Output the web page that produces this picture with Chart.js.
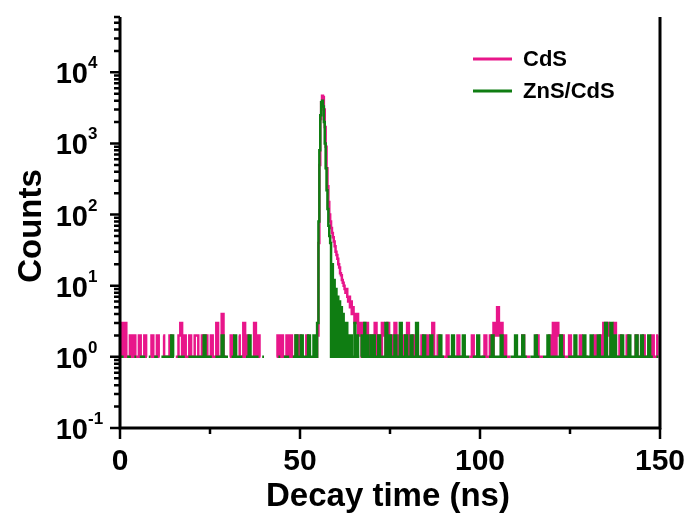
<!DOCTYPE html>
<html>
<head>
<meta charset="utf-8">
<script src="https://cdn.jsdelivr.net/npm/chart.js@4"></script>
<style>
  html, body { margin: 0; padding: 0; background: #fff; }
  #wrap { width: 689px; height: 513px; position: relative; }
</style>
</head>
<body>
<div id="wrap"><canvas id="chart-decay"></canvas></div>
<script>
// =================================================================
// TRPL decay: CdS vs ZnS/CdS
// =================================================================

// channel blocks: start time (ns) and channel width (ns)
const blockStarts = [0, 55, 70];
const blockSteps = [0.5, 0.25, 0.5];

// counts per channel, 0 = empty channel (not drawn on log axis)
const cdsPre = [
    1,3,1,3,1,1,2,1,2,1, 1,2,1,1,2,1,0,1,2,1,
    1,2,1,0,2,1,1,1,2,1, 0,1,1,2,3,1,2,1,1,2,
    1,1,2,2,1,1,2,1,2,1, 1,2,1,1,3,1,1,4,1,1,
    0,1,2,1,1,0,2,1,1,3, 1,2,1,0,1,3,1,2,1,0,
    0,1,0,0,1,0,0,1,2,1, 2,1,1,2,1,2,1,1,2,1,
    2,1,0,1,2,1,1,0,1,1
];
const znsPre = [
    1,1,1,0,1,1,1,0,1,1, 0,1,1,1,1,0,1,1,0,1,
    1,1,0,1,1,1,1,1,1,2, 1,0,1,1,1,1,1,0,1,1,
    1,1,1,1,1,1,1,2,1,1, 1,1,0,1,1,1,1,2,1,1,
    1,0,1,1,2,1,1,1,1,0, 1,1,2,1,1,1,1,1,0,1,
    1,0,1,0,1,0,1,0,1,1, 0,1,1,1,1,0,1,1,2,1,
    1,2,1,1,1,2,1,1,2,1
];
const cdsPeak = [
    2,40,500,2200,3800,4700,4500,3000,1700,900,
    450,250,150,100,80,65,55,48,42,36,
    30,27,24,20,18,15,14,12,11,10,
    9,8,9,7,6,7,5,6,4,5,
    4,3,4,3,4,2,3,2,3,1,
    2,3,1,2,1,3,1,2,1,2
];
const znsPeak = [
    3,80,800,2500,3800,4000,3300,2000,1000,450,
    220,120,70,50,40,1,20,1,12,1,
    9,1,7,1,6,1,5,1,4,1,
    3,1,3,1,2,1,1,2,1,1,
    1,3,1,1,2,1,1,0,1,2,
    1,1,3,1,1,2,1,1,1,2
];
const cdsPost = [
    2,1,3,1,2,1,3,2,1,3, 1,2,1,3,1,2,1,1,2,1,
    3,1,1,2,1,2,1,1,2,1, 1,2,1,1,3,1,1,2,1,1,
    1,1,2,1,1,0,1,1,2,1, 1,1,1,0,1,1,2,1,1,1,
    0,1,1,2,1,1,2,1,3,2, 5,2,3,1,2,1,1,1,0,1,
    1,1,0,1,2,1,1,1,1,0, 1,1,2,1,1,1,0,1,1,2,
    1,3,1,3,2,1,2,1,1,1, 2,1,1,0,1,1,2,1,1,1,
    1,0,1,1,2,1,1,2,1,3, 1,3,2,1,1,3,1,1,2,1,
    1,1,2,1,1,0,1,2,1,1, 1,2,1,1,0,1,2,1,1,2
];
const znsPost = [
    1,2,1,1,2,1,1,1,3,1, 2,1,1,2,1,1,3,1,1,2,
    1,1,2,1,1,3,1,1,1,2, 1,1,1,2,1,1,1,1,2,1,
    1,0,1,1,1,2,1,1,1,1, 1,2,1,1,1,0,1,1,1,2,
    1,1,1,1,0,1,1,2,1,1, 1,1,2,1,1,1,0,1,1,1,
    2,1,1,1,2,1,1,0,1,1, 1,2,1,1,0,1,1,1,2,1,
    1,1,1,1,1,2,1,1,0,1, 1,1,1,2,1,1,1,1,2,1,
    1,1,2,1,1,1,2,1,1,1, 3,1,1,3,1,2,1,1,1,2,
    1,1,1,2,1,1,1,2,1,1, 2,1,1,1,2,1,1,0,1,1
];

const seriesLabels = ['CdS', 'ZnS/CdS'];
const seriesColors = ['#E8168A', '#0F7D12'];

// axis ticks
const xMajorTicks = [0, 50, 100, 150];
const xMinorTicks = [25, 75, 125];
const yExponents = [-1, 0, 1, 2, 3, 4];
const xTitle = 'Decay time (ns)';
const yTitle = 'Counts';

function montarPontos(blocos) {
    const pts = [];
    blocos.forEach((vals, b) => {
        vals.forEach((v, i) => {
            pts.push({ x: blockStarts[b] + i * blockSteps[b], y: v > 0 ? v : null });
        });
    });
    return pts;
}

const FONTE = "'Liberation Sans', Arial, sans-serif";

// eixos, ticks, rótulos e legenda desenhados à mão (estilo Origin)
const eixosPlugin = {
    id: 'eixosOrigin',
    afterDraw(chart) {
        const { ctx, chartArea: a, scales } = chart;
        const xs = scales.x, ys = scales.y;
        ctx.save();
        ctx.strokeStyle = '#000';
        ctx.fillStyle = '#000';
        ctx.lineWidth = 3;
        ctx.lineCap = 'butt';

        // moldura: esquerda, baixo, direita
        ctx.beginPath();
        ctx.moveTo(a.left, a.top); ctx.lineTo(a.left, a.bottom + 1.5);
        ctx.moveTo(a.left - 1.5, a.bottom); ctx.lineTo(a.right + 1.5, a.bottom);
        ctx.moveTo(a.right, a.top); ctx.lineTo(a.right, a.bottom);
        ctx.stroke();

        // ticks do eixo y
        ctx.lineWidth = 2.5;
        ctx.beginPath();
        yExponents.forEach(e => {
            for (let k = 1; k <= 9; k++) {
                const v = k * Math.pow(10, e);
                if (v < ys.min || v > ys.max) continue;
                const py = ys.getPixelForValue(v);
                const len = k === 1 ? 10 : 6;
                ctx.moveTo(a.left - len, py); ctx.lineTo(a.left, py);
            }
        });
        // ticks do eixo x
        xMajorTicks.forEach(v => {
            const px = xs.getPixelForValue(v);
            ctx.moveTo(px, a.bottom); ctx.lineTo(px, a.bottom + 11);
        });
        xMinorTicks.forEach(v => {
            const px = xs.getPixelForValue(v);
            ctx.moveTo(px, a.bottom); ctx.lineTo(px, a.bottom + 6);
        });
        ctx.stroke();

        // rótulos x
        ctx.font = `bold 30px ${FONTE}`;
        ctx.textAlign = 'center';
        ctx.textBaseline = 'alphabetic';
        xMajorTicks.forEach(v => {
            ctx.fillText(String(v), xs.getPixelForValue(v), 470);
        });

        // rótulos y: 10 com expoente
        yExponents.forEach(e => {
            const py = ys.getPixelForValue(Math.pow(10, e));
            ctx.font = `bold 29px ${FONTE}`;
            ctx.textAlign = 'right';
            ctx.fillText('10', 88, py + 11);
            ctx.font = `bold 17px ${FONTE}`;
            ctx.textAlign = 'left';
            ctx.fillText(e < 0 ? '-' + Math.abs(e) : String(e), 88, py - 4);
        });

        // títulos
        ctx.font = `bold 33px ${FONTE}`;
        ctx.textAlign = 'center';
        ctx.fillText(xTitle, 388, 506);
        ctx.save();
        ctx.translate(41, 226);
        ctx.rotate(-Math.PI / 2);
        ctx.fillText(yTitle, 0, 0);
        ctx.restore();

        // legenda
        ctx.font = `bold 22px ${FONTE}`;
        ctx.textAlign = 'left';
        ctx.textBaseline = 'middle';
        chart.data.datasets.forEach((ds, i) => {
            const ly = 59 + i * 32;
            ctx.strokeStyle = ds.borderColor;
            ctx.lineWidth = 3;
            ctx.beginPath();
            ctx.moveTo(473, ly); ctx.lineTo(512, ly);
            ctx.stroke();
            ctx.fillStyle = '#000';
            ctx.fillText(ds.label, 523, ly + 1);
        });
        ctx.restore();
    }
};

const ctxDecay = document.getElementById('chart-decay').getContext('2d');
const chartDecay = new Chart(ctxDecay, {
    type: 'line',
    data: {
        datasets: [
            {
                label: seriesLabels[0],
                data: montarPontos([cdsPre, cdsPeak, cdsPost]),
                borderColor: seriesColors[0],
                order: 1
            },
            {
                label: seriesLabels[1],
                data: montarPontos([znsPre, znsPeak, znsPost]),
                borderColor: seriesColors[1],
                order: 0
            }
        ]
    },
    options: {
        responsive: true,
        maintainAspectRatio: false,
        animation: false,
        layout: { padding: { left: 120, right: 29, top: 17, bottom: 85 } },
        elements: {
            line: { borderWidth: 2.5, stepped: 'middle', tension: 0 },
            point: { radius: 0, hoverRadius: 0 }
        },
        spanGaps: false,
        scales: {
            x: { type: 'linear', min: 0, max: 150, display: false },
            y: { type: 'logarithmic', min: 0.1, max: 60000, display: false }
        },
        plugins: {
            legend: { display: false },
            tooltip: { enabled: false }
        }
    },
    plugins: [eixosPlugin]
});
</script>
</body>
</html>
